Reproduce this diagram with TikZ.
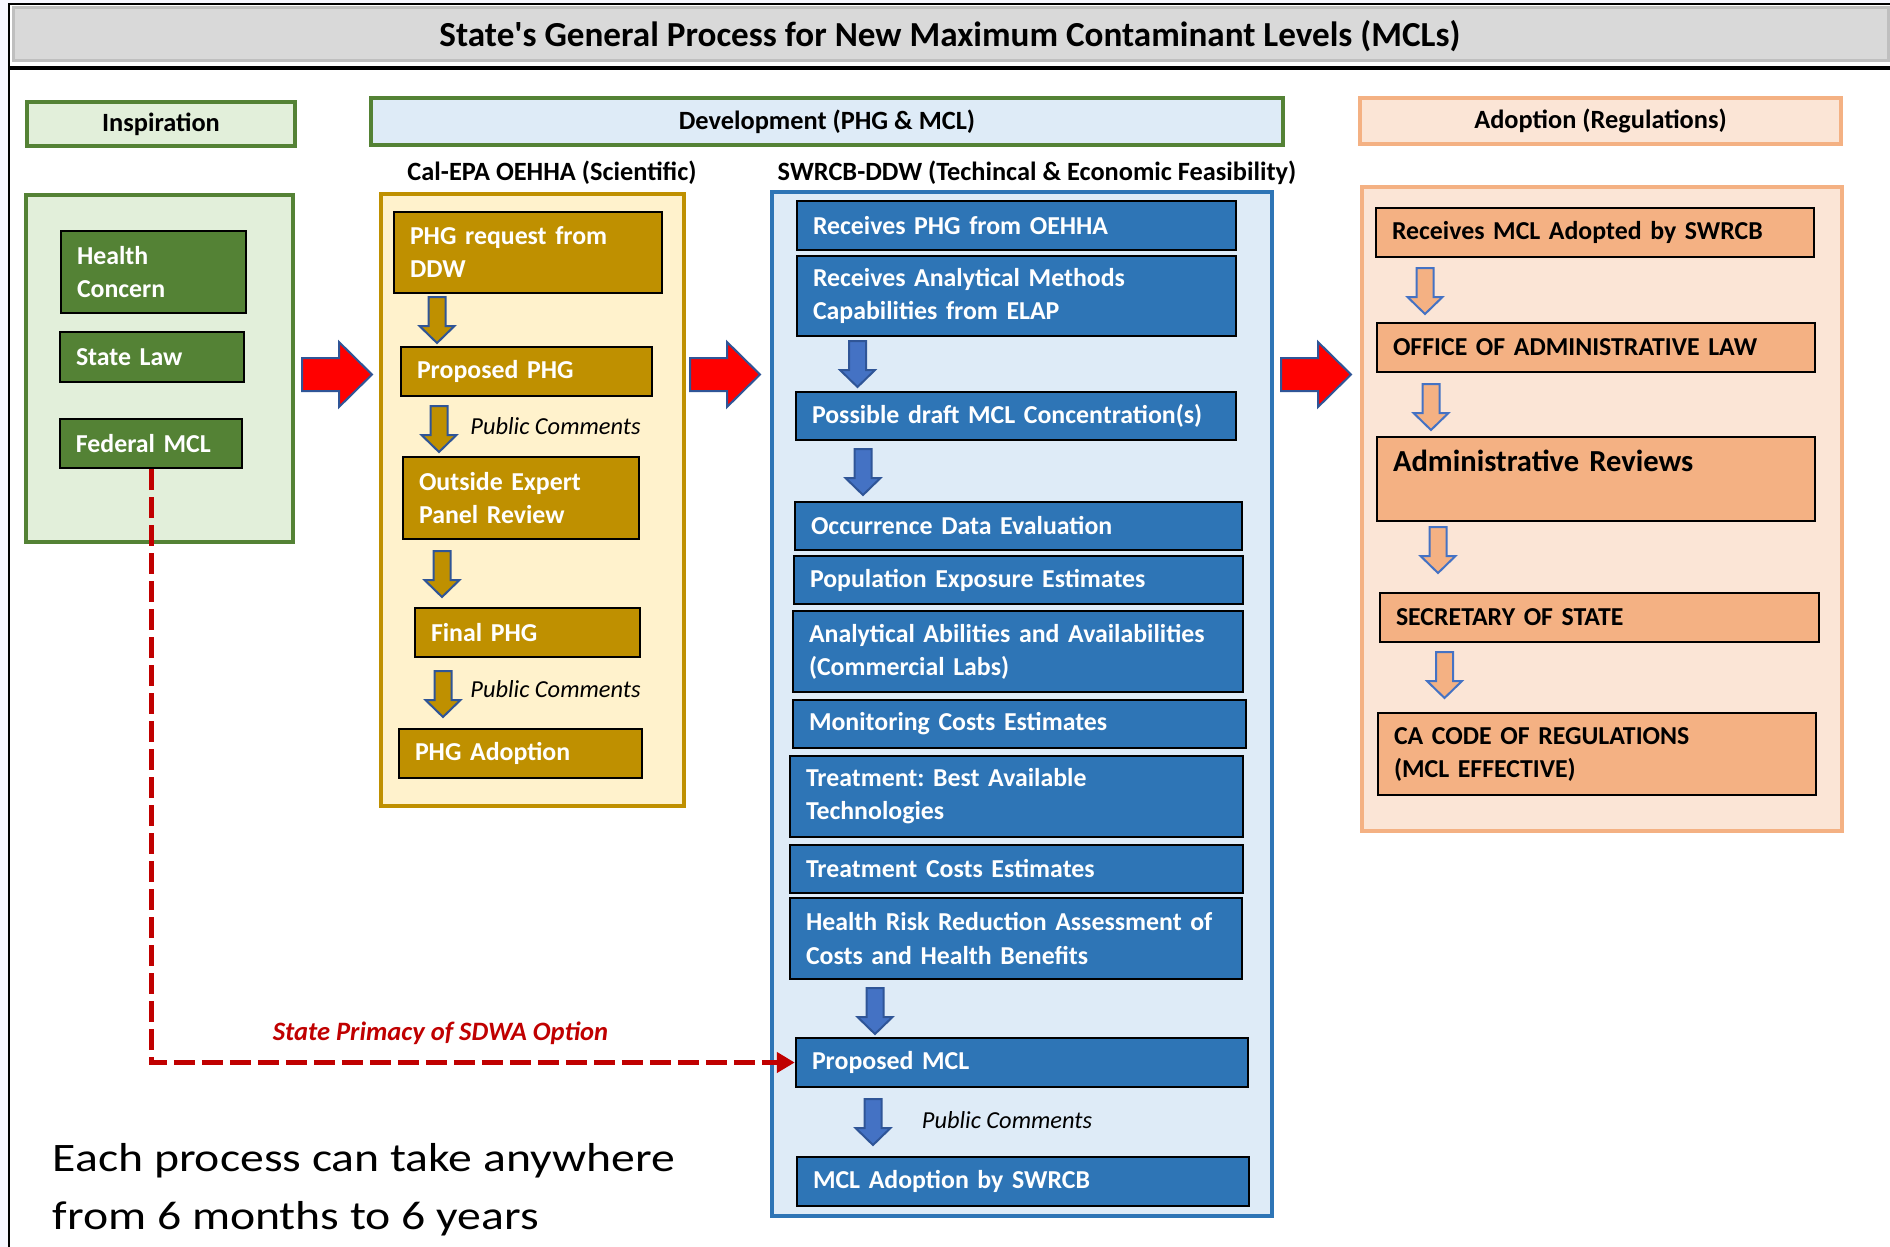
\documentclass[tikz,border=0pt]{standalone}
\usepackage{fontspec}
\setmainfont{Carlito}
\newfontfamily\widefont[FakeStretch=1.18]{Carlito}
\usetikzlibrary{arrows.meta}

\definecolor{titlegray}{HTML}{D9D9D9}
\definecolor{titleedge}{HTML}{BFBFBF}
\definecolor{grnlight}{HTML}{E2EFDA}
\definecolor{grndark}{HTML}{548235}
\definecolor{bluelight}{HTML}{DEEBF7}
\definecolor{bluedark}{HTML}{2E75B6}
\definecolor{goldlight}{HTML}{FFF2CC}
\definecolor{golddark}{HTML}{BF9000}
\definecolor{orglight}{HTML}{FBE5D6}
\definecolor{orgdark}{HTML}{F4B183}
\definecolor{arrowblue}{HTML}{4472C4}
\definecolor{arrowedge}{HTML}{2F5597}
\definecolor{primacyred}{HTML}{C00000}

\tikzset{
  hdr/.style={draw, line width=0.04cm, font=\fontsize{7.5}{9}\selectfont\bfseries, inner sep=0},
  subhdr/.style={font=\fontsize{7.5}{9}\selectfont\bfseries, inner sep=0},
  panel/.style={draw, line width=0.04cm, inner sep=0},
  boxbase/.style={draw=black, line width=0.025cm, inner xsep=0.16cm, inner ysep=0,
    align=left, font=\fontsize{7.35}{9.4}\selectfont\bfseries},
  greenbox/.style={boxbase, fill=grndark, text=white},
  goldbox/.style={boxbase, fill=golddark, text=white},
  bluebox/.style={boxbase, fill=bluedark, text=white},
  orgbox/.style={boxbase, fill=orgdark, text=black},
  comment/.style={font=\fontsize{6.95}{8}\selectfont\itshape, inner sep=0},
  goldarrow/.style={fill=golddark, draw=arrowedge, line width=0.02cm},
  bluearrow/.style={fill=arrowblue, draw=arrowedge, line width=0.02cm},
  orgarrow/.style={fill=orgdark, draw=arrowblue, line width=0.02cm},
  redarrow/.style={fill=red, draw=arrowedge, line width=0.02cm},
  darrow/.pic={\draw[pic actions] (-0.085,0) -- (0.085,0) -- (0.085,0.29) -- (0.175,0.29)
    -- (0,0.46) -- (-0.175,0.29) -- (-0.085,0.29) -- cycle;},
  rarrow/.pic={\draw[pic actions] (0,-0.165) -- (0.37,-0.165) -- (0.37,-0.325) -- (0.70,0)
    -- (0.37,0.325) -- (0.37,0.165) -- (0,0.165) -- cycle;}
}

\begin{document}
\frenchspacing
\begin{tikzpicture}[x=1cm, y=-1cm]
\useasboundingbox (0,0) rectangle (18.9,12.47);
\fill[black!5!blue!3] (0,0) rectangle (18.9,12.47);
\fill[white] (0.09,0.04) rectangle (18.9,12.47);
\draw[line width=0.015cm] (0.09,12.47) -- (0.09,0.04) -- (18.9,0.04);
\draw[line width=0.035cm] (0.09,0.68) -- (18.9,0.68);
%
% title
\node[fill=titlegray, draw=titleedge, line width=0.03cm, minimum width=18.75cm, minimum height=0.53cm] (titlebar) at (9.505,0.335) {};
\node[font=\fontsize{10}{12}\selectfont\bfseries, inner sep=0] (title) at (9.50,0.365)
  {State\textquotesingle s General Process for New Maximum Contaminant Levels (MCLs)};
%
% column headers
\node[hdr, draw=grndark, fill=grnlight, minimum width=2.68cm, minimum height=0.44cm] (insphdr) at (1.61,1.24) {Inspiration};
\node[hdr, draw=grndark, fill=bluelight, minimum width=9.12cm, minimum height=0.47cm] (devhdr) at (8.27,1.215) {Development (PHG \& MCL)};
\node[hdr, draw=orgdark, fill=orglight, minimum width=4.81cm, minimum height=0.46cm] (adopthdr) at (16.005,1.21) {Adoption (Regulations)};
\node[subhdr] (oehhahdr) at (5.52,1.73) {Cal-EPA OEHHA (Scientific)};
\node[subhdr] (swrcbhdr) at (10.37,1.73) {SWRCB-DDW (Techincal \& Economic Feasibility)};
%
% panels
\node[panel, draw=grndark, fill=grnlight, minimum width=2.67cm, minimum height=3.47cm] (insppanel) at (1.595,3.685) {};
\node[panel, draw=golddark, fill=goldlight, minimum width=3.03cm, minimum height=6.12cm] (oehhapanel) at (5.325,5.0) {};
\node[panel, draw=bluedark, fill=bluelight, minimum width=5.0cm, minimum height=10.24cm] (swrcbpanel) at (10.22,7.04) {};
\node[panel, draw=orgdark, fill=orglight, minimum width=4.8cm, minimum height=6.44cm] (adoptpanel) at (16.02,5.09) {};
%
% inspiration
\node[greenbox, text width=1.53cm, minimum height=0.82cm] (health) at (1.535,2.72) {Health\\Concern};
\node[greenbox, text width=1.52cm, minimum height=0.50cm] (statelaw) at (1.52,3.57) {State Law};
\node[greenbox, text width=1.50cm, minimum height=0.49cm] (fedmcl) at (1.51,4.435) {Federal MCL};
%
\pic[redarrow] (ra1) at (3.02,3.745) {rarrow};
\pic[redarrow] (ra2) at (6.90,3.745) {rarrow};
\pic[redarrow] (ra3) at (12.81,3.745) {rarrow};
%
% OEHHA
\node[goldbox, text width=2.36cm, minimum height=0.81cm] (phgreq) at (5.28,2.525) {PHG request from\\DDW};
\node[goldbox, text width=2.19cm, minimum height=0.49cm] (prophg) at (5.265,3.715) {Proposed PHG};
\node[goldbox, text width=2.04cm, minimum height=0.82cm] (expert) at (5.21,4.98) {Outside Expert\\Panel Review};
\node[goldbox, text width=1.93cm, minimum height=0.49cm] (finalphg) at (5.275,6.325) {Final PHG};
\node[goldbox, text width=2.11cm, minimum height=0.49cm] (phgadopt) at (5.205,7.535) {PHG Adoption};
\pic[goldarrow] (ga1) at (4.37,2.97) {darrow};
\pic[goldarrow] (ga2) at (4.39,4.06) {darrow};
\pic[goldarrow] (ga3) at (4.42,5.51) {darrow};
\pic[goldarrow] (ga4) at (4.43,6.71) {darrow};
\node[comment] (pc1) at (5.555,4.26) {Public Comments};
\node[comment] (pc2) at (5.555,6.89) {Public Comments};
%
% SWRCB
\node[bluebox, text width=4.07cm, minimum height=0.49cm] (recphg) at (10.165,2.255) {Receives PHG from OEHHA};
\node[bluebox, text width=4.07cm, minimum height=0.80cm] (recmeth) at (10.165,2.96) {Receives Analytical Methods\\Capabilities from ELAP};
\node[bluebox, text width=4.08cm, minimum height=0.48cm] (draftmcl) at (10.16,4.16) {Possible draft MCL Concentration(s)};
\node[bluebox, text width=4.15cm, minimum height=0.48cm] (occur) at (10.185,5.26) {Occurrence Data Evaluation};
\node[bluebox, text width=4.17cm, minimum height=0.48cm] (popexp) at (10.185,5.80) {Population Exposure Estimates};
\node[bluebox, text width=4.18cm, minimum height=0.81cm] (analabs) at (10.18,6.515) {Analytical Abilities and Availabilities\\(Commercial Labs)};
\node[bluebox, text width=4.21cm, minimum height=0.48cm] (monitor) at (10.195,7.24) {Monitoring Costs Estimates};
\node[bluebox, text width=4.21cm, minimum height=0.81cm] (treatbat) at (10.165,7.965) {Treatment: Best Available\\Technologies};
\node[bluebox, text width=4.21cm, minimum height=0.48cm] (treatcost) at (10.165,8.69) {Treatment Costs Estimates};
\node[bluebox, text width=4.20cm, minimum height=0.81cm] (riskred) at (10.16,9.385) {\mbox{Health Risk Reduction Assessment of}\\Costs and Health Benefits};
\node[bluebox, text width=4.20cm, minimum height=0.49cm] (propmcl) at (10.22,10.625) {Proposed MCL};
\node[bluebox, text width=4.20cm, minimum height=0.49cm] (mcladopt) at (10.23,11.815) {MCL Adoption by SWRCB};
\pic[bluearrow] (ba1) at (8.575,3.41) {darrow};
\pic[bluearrow] (ba2) at (8.63,4.49) {darrow};
\pic[bluearrow] (ba3) at (8.75,9.88) {darrow};
\pic[bluearrow] (ba4) at (8.73,10.99) {darrow};
\node[comment] (pc3) at (10.07,11.20) {Public Comments};
%
% adoption
\node[orgbox, text width=4.06cm, minimum height=0.49cm] (recmcl) at (15.95,2.325) {Receives MCL Adopted by SWRCB};
\node[orgbox, text width=4.06cm, minimum height=0.49cm] (oal) at (15.96,3.475) {OFFICE OF ADMINISTRATIVE LAW};
\node[orgbox, text width=4.06cm, minimum height=0.84cm, font=\fontsize{8.7}{10.4}\selectfont\bfseries] (adminrev) at (15.96,4.79) {Administrative Reviews\\\mbox{}};
\node[orgbox, text width=4.07cm, minimum height=0.49cm] (secstate) at (15.995,6.175) {SECRETARY OF STATE};
\node[orgbox, text width=4.06cm, minimum height=0.82cm] (cacode) at (15.97,7.54) {CA CODE OF REGULATIONS\\(MCL EFFECTIVE)};
\pic[orgarrow] (oa1) at (14.25,2.68) {darrow};
\pic[orgarrow] (oa2) at (14.31,3.84) {darrow};
\pic[orgarrow] (oa3) at (14.38,5.27) {darrow};
\pic[orgarrow] (oa4) at (14.445,6.52) {darrow};
%
% state primacy option
\draw[primacyred, line width=0.05cm, dash pattern=on 0.21cm off 0.07cm,
  -{Triangle[length=0.18cm,width=0.2cm]}] (fedmcl.south) |- (propmcl.west);
\node[text=primacyred, font=\fontsize{7.55}{9}\selectfont\bfseries\itshape, inner sep=0] (primacy) at (4.405,10.33) {State Primacy of SDWA Option};
%
\node[anchor=north west, align=left, inner sep=0, font=\fontsize{11.5}{16.4}\widefont] (duration) at (0.52,11.43)
  {Each process can take anywhere\\from 6 months to 6 years};
\end{tikzpicture}
\end{document}
